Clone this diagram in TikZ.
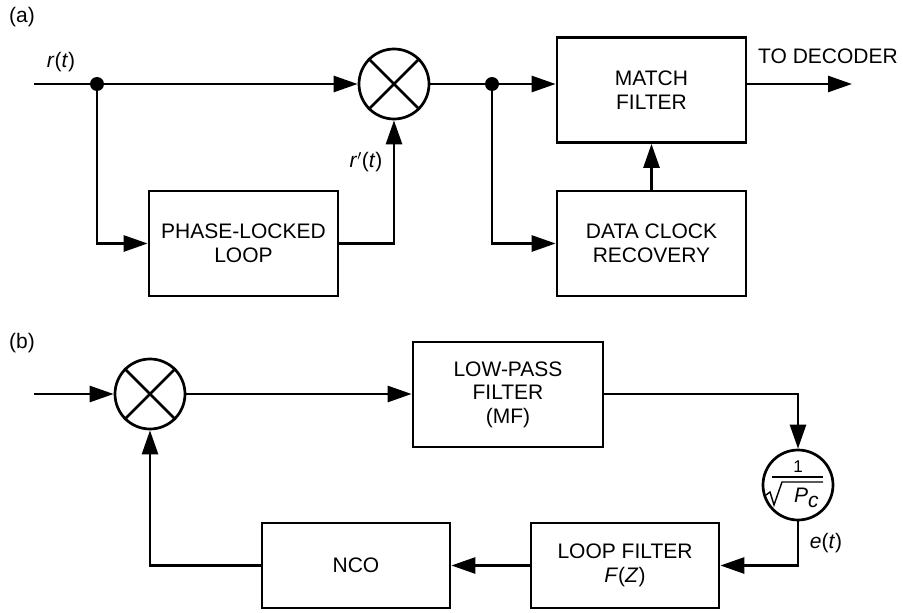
\documentclass[tikz,border=0pt]{standalone}
\usepackage{fontspec}
\setmainfont{Liberation Sans}
\usepackage{tikz}
\usetikzlibrary{arrows.meta,positioning}
\tikzset{
  plbox/.style={draw, line width=2.7pt, minimum width=189pt, minimum height=105pt, align=center, inner sep=2pt},
  plboxlow/.style={plbox, minimum height=85pt},
  plmix/.style={draw, line width=2.7pt, circle, minimum size=70pt, inner sep=0pt},
  plarr/.style={-{Triangle[length=24pt,width=16pt]}, line width=2.7pt},
  plline/.style={line width=2.7pt},
  plthin/.style={line width=1.4pt},
  pldot/.style={circle, fill, minimum size=14pt, inner sep=0pt}
}

\begin{document}
\begin{tikzpicture}[x=1pt, y=-1pt, font=\fontsize{21}{23.5}\selectfont]
  \useasboundingbox (0,0) rectangle (903,613);
  % (a) receiver
  \node (labA) at (22,17) {(a)};
  \coordinate (inA) at (34,84);
  \node[pldot] (jA) at (97,84) {};
  \node[plmix] (mixA) at (394,84) {};
  \node[plbox] (pll) at (243.5,243.5) {PHASE-LOCKED\\LOOP};
  \node[pldot] (jB) at (492,84) {};
  \node[plbox] (match) at (651.5,90) {MATCH\\FILTER};
  \node[plbox] (dcr) at (651.5,243.5) {DATA CLOCK\\RECOVERY};
  \coordinate (outA) at (852,84);
  \node (rt) at (61,62) {\textit{r}(\textit{t})};
  \node (rpt) at (366,162) {\textit{r}$'$(\textit{t})};
  \node[anchor=west, inner sep=0pt] (dec) at (758,56) {TO DECODER};
  \draw[plline] (mixA.north west) -- (mixA.south east) (mixA.north east) -- (mixA.south west);
  \draw[plarr] (inA) -- (mixA.west);
  \draw[plarr] (jA) |- (pll.west);
  \draw[plarr] (pll.east) -| (mixA.south);
  \draw[plarr] (mixA.east) -- (match.west |- mixA.east);
  \draw[plarr] (jB) |- (dcr.west);
  \draw[plarr] (dcr.north) -- (match.south);
  \draw[plarr] (match.east |- outA) -- (outA);
  % (b) carrier loop
  \node (labB) at (22,343) {(b)};
  \coordinate (inB) at (34,394);
  \node[plmix] (mixB) at (150,394) {};
  \node[plbox, minimum width=190pt] (lpf) at (508,394.5) {LOW-PASS\\FILTER\\(MF)};
  \node[plmix] (gain) at (798,485) {};
  \node[plboxlow, minimum width=188pt] (lf) at (625,565.5) {LOOP FILTER\\\textit{F}(\textit{Z})};
  \node[plboxlow, minimum width=188pt] (nco) at (356,565.5) {NCO};
  \node (et) at (826,543) {\textit{e}(\textit{t})};
  % 1/sqrt(Pc) inside the gain circle
  \node[font=\fontsize{17}{18}\selectfont, inner sep=0pt] (gnum) at ([shift={(0,-18)}]gain.center) {1};
  \node[anchor=base west, inner sep=0pt] (gden) at ([shift={(-4,17)}]gain.center) {\textit{P}\raisebox{-5pt}{\textit{c}}};
  \draw[plthin] ([shift={(-26,-8)}]gain.center) -- ([shift={(25,-8)}]gain.center);
  \draw[plthin, line join=miter] ([shift={(-32,10)}]gain.center) -- ([shift={(-28,7)}]gain.center)
    -- ([shift={(-24,20)}]gain.center) -- ([shift={(-16,-3)}]gain.center) -- ([shift={(25,-3)}]gain.center);
  \draw[plline] (mixB.north west) -- (mixB.south east) (mixB.north east) -- (mixB.south west);
  \draw[plarr] (inB) -- (mixB.west);
  \draw[plarr] (mixB.east) -- (lpf.west |- mixB.east);
  \draw[plarr] (lpf.east |- mixB.east) -| (gain.north);
  \draw[plarr] (gain.south) |- (lf.east);
  \draw[plarr] (lf.west) -- (nco.east);
  \draw[plarr] (nco.west) -| (mixB.south);
\end{tikzpicture}
\end{document}
